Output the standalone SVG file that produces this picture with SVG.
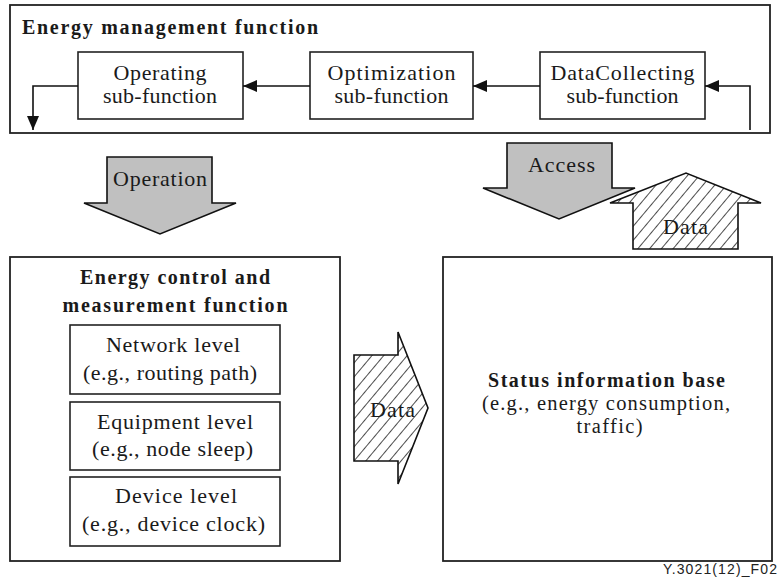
<svg xmlns="http://www.w3.org/2000/svg" width="778" height="579" viewBox="0 0 778 579">
<style>
.box{fill:#fff;stroke:#222;stroke-width:1.8}
.sub{fill:#fff;stroke:#222;stroke-width:1.6}
.t{font-family:"Liberation Serif","Times New Roman",serif;font-size:22px;fill:#1a1a1a;text-anchor:middle}
.s{font-size:20.5px}
.b{font-family:"Liberation Serif","Times New Roman",serif;font-size:20px;font-weight:bold;fill:#1a1a1a}
.c{text-anchor:middle}
.con{fill:none;stroke:#111;stroke-width:1.6}
.gray{fill:#c0c0c0;stroke:#111;stroke-width:1.6;stroke-linejoin:miter}
.hatch{fill:url(#hp);stroke:#111;stroke-width:1.6}
</style>
<defs>
<marker id="ah" viewBox="0 0 14 12" refX="14" refY="6" markerWidth="14" markerHeight="12" markerUnits="userSpaceOnUse" orient="auto"><path d="M0,0 L14,6 L0,12 z" fill="#111"/></marker>
<pattern id="hp" patternUnits="userSpaceOnUse" width="9" height="9" patternTransform="rotate(40)"><rect width="9" height="9" fill="#fff"/><line x1="0" y1="0" x2="0" y2="9" stroke="#111" stroke-width="1.5"/></pattern>
</defs>

<g id="energy-management">
<rect class="box" x="10" y="5" width="760" height="128"/>
<text class="b" x="22" y="34" textLength="296" lengthAdjust="spacing">Energy management function</text>
</g>
<g id="operating">
<rect class="sub" x="78" y="52" width="165" height="67"/>
<text class="t" x="160" y="80" textLength="93" lengthAdjust="spacing">Operating</text>
<text class="t" x="160" y="103" textLength="114" lengthAdjust="spacing">sub-function</text>
</g>
<g id="optimization">
<rect class="sub" x="310" y="52" width="163" height="67"/>
<text class="t" x="391.5" y="80" textLength="128" lengthAdjust="spacing">Optimization</text>
<text class="t" x="391.5" y="103" textLength="114" lengthAdjust="spacing">sub-function</text>
</g>
<g id="datacollecting">
<rect class="sub" x="540" y="52" width="165" height="67"/>
<text class="t" x="622.5" y="80" textLength="144" lengthAdjust="spacing">DataCollecting</text>
<text class="t" x="622.5" y="103" textLength="112" lengthAdjust="spacing">sub-function</text>
</g>

<g id="connectors">
<path class="con" d="M310,86 H243" marker-end="url(#ah)"/>
<path class="con" d="M540,86 H473" marker-end="url(#ah)"/>
<path class="con" d="M750,130 V86 H705" marker-end="url(#ah)"/>
<path class="con" d="M78,86 H33 V130" marker-end="url(#ah)"/>
</g>

<g id="operation-arrow">
<path class="gray" d="M107,157 H212 V203 H236 L160,234 L84,203 H107 Z"/>
<text class="t" x="160" y="186" textLength="94" lengthAdjust="spacing">Operation</text>
</g>
<g id="access-arrow">
<path class="gray" d="M507,143 H612 V188 H635 L559,219 L483,188 H507 Z"/>
<text class="t" x="561.5" y="172" textLength="67" lengthAdjust="spacing">Access</text>
</g>
<g id="data-up-arrow">
<path class="hatch" d="M633,249 V203 H610 L686,173 L761,203 H738 V249 Z"/>
<text class="t" x="685.5" y="234" textLength="45" lengthAdjust="spacing">Data</text>
</g>

<g id="energy-control">
<rect class="box" x="10" y="257" width="330" height="304"/>
<text class="b c" x="175" y="284" textLength="190" lengthAdjust="spacing">Energy control and</text>
<text class="b c" x="175" y="312" textLength="225" lengthAdjust="spacing">measurement function</text>
</g>
<g id="network-level">
<rect class="sub" x="70" y="325" width="210" height="69"/>
<text class="t" x="173" y="352" textLength="134" lengthAdjust="spacing">Network level</text>
<text class="t" x="170" y="380" textLength="174" lengthAdjust="spacing">(e.g., routing path)</text>
</g>
<g id="equipment-level">
<rect class="sub" x="70" y="402" width="210" height="68"/>
<text class="t" x="175" y="429" textLength="156" lengthAdjust="spacing">Equipment level</text>
<text class="t" x="172.5" y="456" textLength="161" lengthAdjust="spacing">(e.g., node sleep)</text>
</g>
<g id="device-level">
<rect class="sub" x="70" y="477" width="210" height="69"/>
<text class="t" x="176" y="503" textLength="122" lengthAdjust="spacing">Device level</text>
<text class="t" x="173.5" y="531" textLength="183" lengthAdjust="spacing">(e.g., device clock)</text>
</g>

<g id="data-right-arrow">
<path class="hatch" d="M354,355 H398 V332 L428,408 L398,484 V461 H354 Z"/>
<text class="t" x="392.5" y="417" textLength="45" lengthAdjust="spacing">Data</text>
</g>

<g id="status-information-base">
<rect class="box" x="443" y="257" width="329" height="304"/>
<text class="b c" x="606.5" y="387" textLength="237" lengthAdjust="spacing">Status information base</text>
<text class="t s" x="606" y="410" textLength="248" lengthAdjust="spacing">(e.g., energy consumption,</text>
<text class="t s" x="609.5" y="433" textLength="66" lengthAdjust="spacing">traffic)</text>
</g>

<text x="777" y="574" font-family="Liberation Sans, Arial, sans-serif" font-size="14" fill="#222" text-anchor="end" textLength="114" lengthAdjust="spacing">Y.3021(12)_F02</text>
</svg>
